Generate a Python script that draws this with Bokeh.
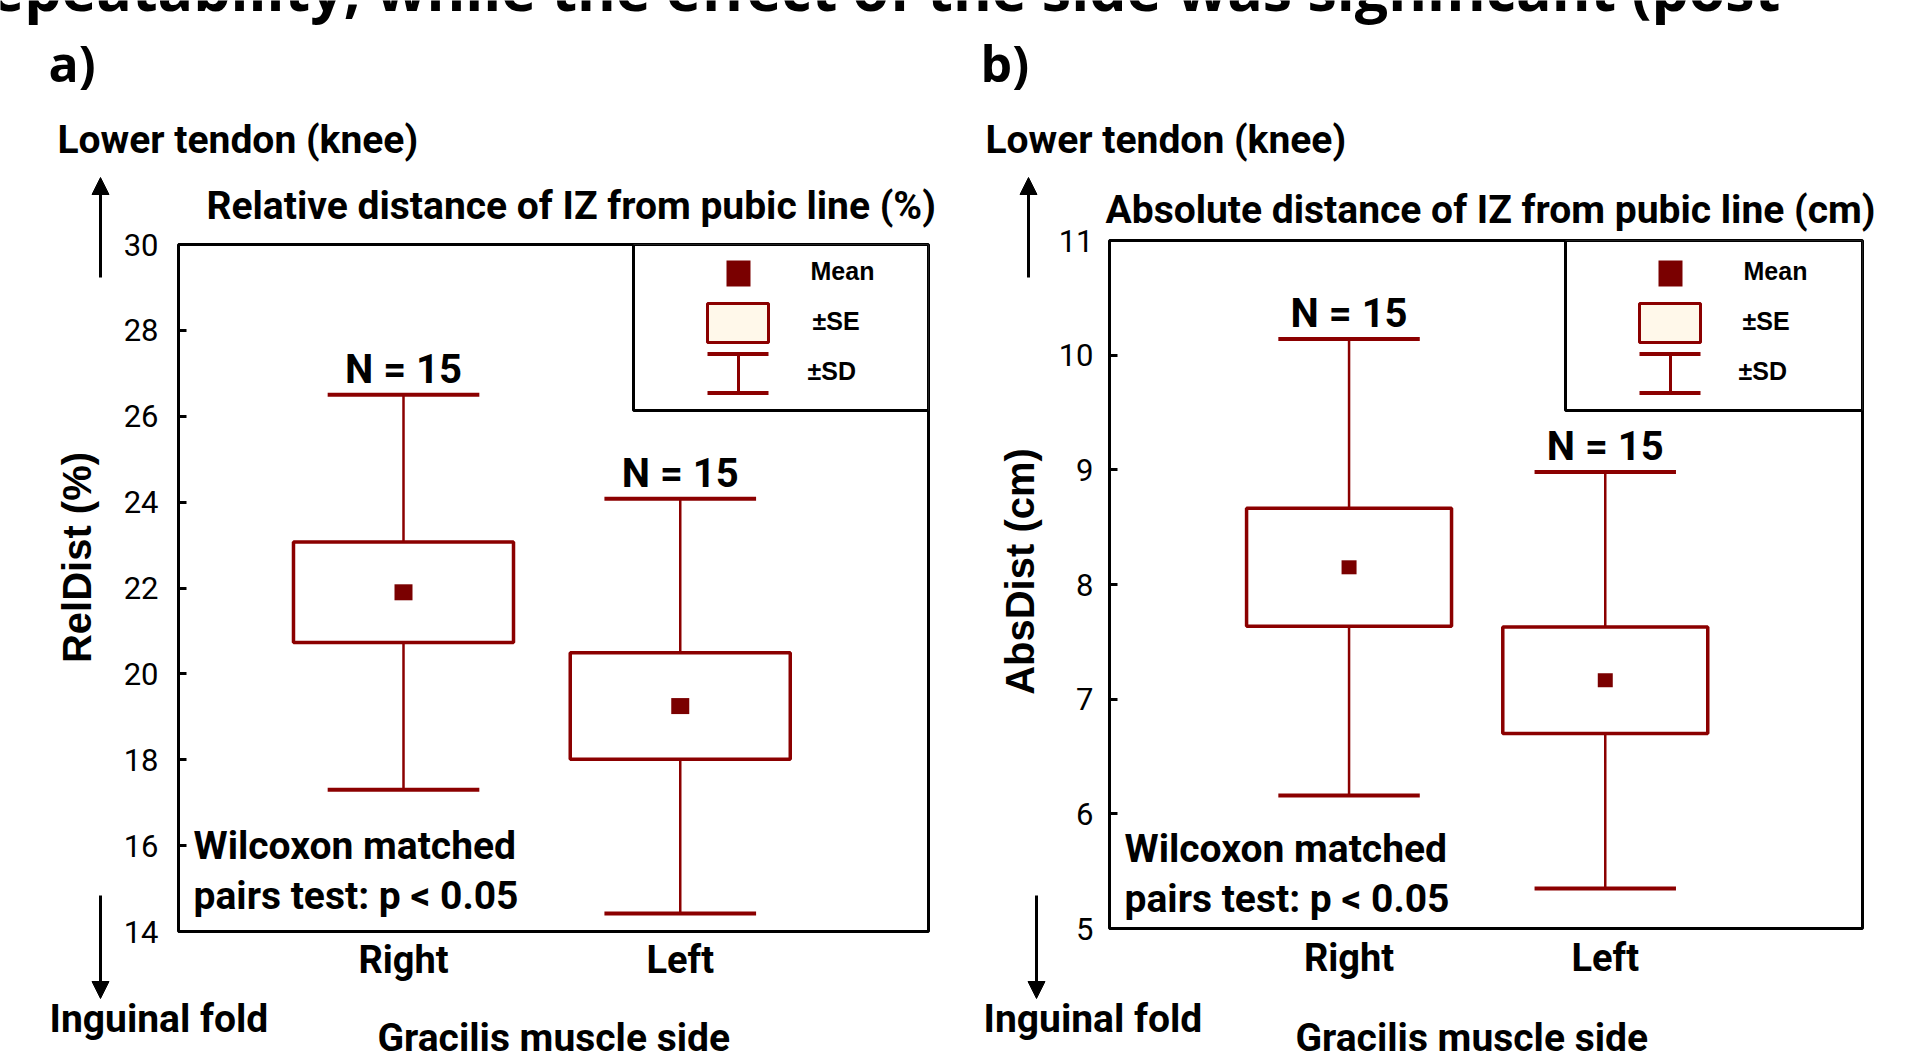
from bokeh.plotting import figure
from bokeh.models import (ColumnDataSource, Label, Arrow, NormalHead, BoxAnnotation,
                          FixedTicker, Range1d, GridBox)
from bokeh.embed import file_html
from bokeh.resources import INLINE

# ---------------- data ----------------
sides = ["Right", "Left"]
side_pos = [1, 2]
n_counts = [15, 15]

rel_mean = [21.9, 19.25]
rel_se = [1.17, 1.24]
rel_sd = [4.6, 4.83]

abs_mean = [8.15, 7.165]
abs_se = [0.515, 0.465]
abs_sd = [1.99, 1.816]

rel_ticks = [14, 16, 18, 20, 22, 24, 26, 28, 30]
abs_ticks = [5, 6, 7, 8, 9, 10, 11]

# ---------------- style ----------------
RED = "#8B0000"
MEAN_RED = "#7A0000"
CREAM = "#FFF8EA"
COND = "Roboto"
SANS = "Liberation Sans"
OPEN = "Open Sans"
# measured downward drift of an "alphabetic" label, as a fraction of its font size
DRIFT = {COND: 0.36, OPEN: 0.40, SANS: 0.36}

PAGE_W, PAGE_H = 1912, 1061
W, H = 956, 1061


def no_align(p):
    if "frame_align" in p.properties():
        p.frame_align = False


def make_panel(cfg, means, ses, sds, ticks):
    x0 = cfg["page_x"]
    L, R, T, B = cfg["frame"]
    xr, yr = cfg["xr"], cfg["yr"]
    p = figure(frame_width=R - L, frame_height=B - T, output_backend="svg",
               toolbar_location=None, x_range=Range1d(*xr), y_range=Range1d(*yr), title=None,
               min_border_left=L - x0, min_border_right=x0 + W - R,
               min_border_top=T, min_border_bottom=H - B)
    no_align(p)
    p.background_fill_color = "white"
    p.border_fill_color = "white"
    p.outline_line_color = "black"
    p.outline_line_width = 3
    p.outline_line_alpha = 1
    p.grid.visible = False

    def px2x(px):
        return xr[0] + (px - L) / (R - L) * (xr[1] - xr[0])

    def py2y(py):
        return yr[1] - (py - T) / (B - T) * (yr[1] - yr[0])

    ypx = (yr[1] - yr[0]) / (B - T)   # data units per pixel

    ya = p.yaxis[0]
    ya.ticker = FixedTicker(ticks=ticks)
    ya.axis_line_color = None
    ya.major_tick_in = 8
    ya.major_tick_out = 0
    ya.major_tick_line_width = 3
    ya.major_tick_line_color = "black"
    ya.minor_tick_line_color = None
    ya.major_label_standoff = cfg["ystandoff"]
    ya.major_label_text_font = COND
    ya.major_label_text_font_size = "31px"
    ya.major_label_text_color = "black"

    xa = p.xaxis[0]
    xa.ticker = FixedTicker(ticks=side_pos)
    xa.major_label_overrides = dict(zip(side_pos, sides))
    xa.axis_line_color = None
    xa.major_tick_line_color = None
    xa.minor_tick_line_color = None
    xa.major_label_standoff = cfg["xstandoff"]
    xa.major_label_text_font = COND
    xa.major_label_text_font_style = "bold"
    xa.major_label_text_font_size = "38px"
    xa.major_label_text_color = "black"

    bw, cw = cfg["box_w"], cfg["cap_w"]
    src = ColumnDataSource(dict(
        x=side_pos, mean=means,
        lo_se=[m - s for m, s in zip(means, ses)],
        hi_se=[m + s for m, s in zip(means, ses)],
        lo_sd=[m - s for m, s in zip(means, sds)],
        hi_sd=[m + s for m, s in zip(means, sds)],
        bl=[x - bw / 2 for x in side_pos], br=[x + bw / 2 for x in side_pos],
        cl=[x - cw / 2 for x in side_pos], cr=[x + cw / 2 for x in side_pos],
    ))
    p.segment(x0="x", y0="hi_se", x1="x", y1="hi_sd", source=src,
              line_color=RED, line_width=2.5)
    p.segment(x0="x", y0="lo_sd", x1="x", y1="lo_se", source=src,
              line_color=RED, line_width=2.5)
    p.segment(x0="cl", y0="hi_sd", x1="cr", y1="hi_sd", source=src,
              line_color=RED, line_width=4)
    p.segment(x0="cl", y0="lo_sd", x1="cr", y1="lo_sd", source=src,
              line_color=RED, line_width=4)
    p.quad(left="bl", right="br", bottom="lo_se", top="hi_se", source=src,
           fill_color="white", line_color=RED, line_width=3.5)
    p.rect(x="x", y="mean", width=cfg["mean_w"], height=cfg["mean_h"],
           width_units="screen", height_units="screen", source=src,
           fill_color=MEAN_RED, line_color=None)

    n_size = 40
    for xi, top, n in zip(side_pos, src.data["hi_sd"], n_counts):
        p.add_layout(Label(x=xi, y=top + (11 + DRIFT[COND] * n_size) * ypx, text=f"N = {n}",
                           text_align="center", text_baseline="alphabetic",
                           text_font=COND, text_font_style="bold",
                           text_font_size=f"{n_size}px", text_color="black"))

    # legend (drawn by hand, upper right, inside the frame)
    def box(l, r, t, b, **kw):
        p.add_layout(BoxAnnotation(left=px2x(l), right=px2x(r), top=py2y(t),
                                   bottom=py2y(b), **kw))

    def lab(text, px, py):
        p.add_layout(Label(x=px2x(px), y=py2y(py), text=text, text_font=SANS,
                           text_font_size="25px", text_font_style="bold",
                           text_align="left", text_baseline="middle", text_color="black"))

    lg = cfg["legend_left"]
    box(lg, R, T, 410, fill_color="white", fill_alpha=1, line_color="black",
        line_width=3, line_alpha=1)
    cx = lg + 105
    box(cx - 12, cx + 12, 260, 286, fill_color=MEAN_RED, fill_alpha=1, line_color=None)
    box(cx - 31, cx + 30, 303, 342, fill_color=CREAM, fill_alpha=1, line_color=RED,
        line_width=3, line_alpha=1)
    box(cx - 31, cx + 30, 351.5, 355.5, fill_color=RED, fill_alpha=1, line_color=None)
    box(cx - 31, cx + 30, 390.5, 394.5, fill_color=RED, fill_alpha=1, line_color=None)
    box(cx - 1.5, cx + 1.5, 353, 392, fill_color=RED, fill_alpha=1, line_color=None)
    tx = cfg["legend_text_x"]
    lab("Mean", tx[0], 270)
    lab("±SE", tx[1], 320)
    lab("±SD", tx[2], 370)
    return p


cfg_a = dict(page_x=0, frame=(178, 928, 244, 931), xr=(0.187, 2.897), yr=(14, 30),
             ystandoff=20, xstandoff=0, box_w=0.795, cap_w=0.548, mean_w=18, mean_h=16,
             legend_left=633, legend_text_x=(810, 812, 807))
cfg_b = dict(page_x=956, frame=(1109, 1862, 240, 928), xr=(0.065, 3.004), yr=(5, 11),
             ystandoff=16, xstandoff=1, box_w=0.80, cap_w=0.552, mean_w=15, mean_h=14,
             legend_left=1565, legend_text_x=(1743, 1742, 1738))

pa = make_panel(cfg_a, rel_mean, rel_se, rel_sd, rel_ticks)
pb = make_panel(cfg_b, abs_mean, abs_se, abs_sd, abs_ticks)

# ---------------- transparent overlay carrying the free texts and arrows ----------------
ov = figure(frame_width=PAGE_W, frame_height=PAGE_H,
            x_range=Range1d(0, PAGE_W), y_range=Range1d(PAGE_H, 0),
            output_backend="svg", toolbar_location=None, title=None,
            x_axis_location=None, y_axis_location=None,
            min_border_left=0, min_border_right=0, min_border_top=0, min_border_bottom=0)
no_align(ov)
ov.background_fill_color = None
ov.border_fill_color = None
ov.outline_line_color = None
ov.grid.visible = False


def otext(text, x, y, font=COND, size=39, style="bold", align="left",
          baseline="alphabetic", angle=0):
    if baseline == "alphabetic":
        y = y - DRIFT[font] * size
    ov.add_layout(Label(x=x, y=y, text=text, text_font=font, text_font_size=f"{size}px",
                        text_font_style=style, text_align=align, text_baseline=baseline,
                        angle=angle, angle_units="deg", text_color="black"))


def oarrow(x, y_tail, y_tip):
    ov.add_layout(Arrow(end=NormalHead(size=17, fill_color="black", line_color="black",
                                       line_width=1),
                        x_start=x, y_start=y_tail, x_end=x, y_end=y_tip,
                        line_color="black", line_width=3))


# cut-off line of running text above the figure (cut by the page edge, as in the source)
otext("repeatability, while the effect of the side was significant (post", -38, 11,
      font=OPEN, size=59)

panels_text = [
    ("a)", (48, 82), (57, 154), "Relative distance of IZ  from pubic line (%)", (206, 220),
     "RelDist (%)", (76, 557), 193, (860, 910), (49, 1033), (377, 1052), 100, 100),
    ("b)", (980, 82), (985, 154), "Absolute distance of IZ  from pubic line (cm)", (1105, 224),
     "AbsDist (cm)", (1019, 571), 1124, (863, 913), (983, 1033), (1295, 1052), 1028, 1036),
]
for (letter, lxy, uxy, title, txy, ylab, yxy, wx, wy, loxy, xlxy, upx, dnx) in panels_text:
    otext(letter, *lxy, font=OPEN, size=50)
    otext("Lower tendon (knee)", *uxy)
    otext(title, *txy)
    otext(ylab, *yxy, font=SANS, size=40, align="center", baseline="middle", angle=90)
    otext("Wilcoxon matched", wx, wy[0])
    otext("pairs test: p < 0.05", wx, wy[1])
    otext("Inguinal fold", *loxy)
    otext("Gracilis muscle side", *xlxy)
    oarrow(upx, 277, 177)
    oarrow(dnx, 895, 998)

layout = GridBox(children=[(pa, 0, 0), (pb, 0, 1), (ov, 0, 0, 1, 2)], spacing=0)
open("out.html", "w").write(file_html(layout, INLINE))
